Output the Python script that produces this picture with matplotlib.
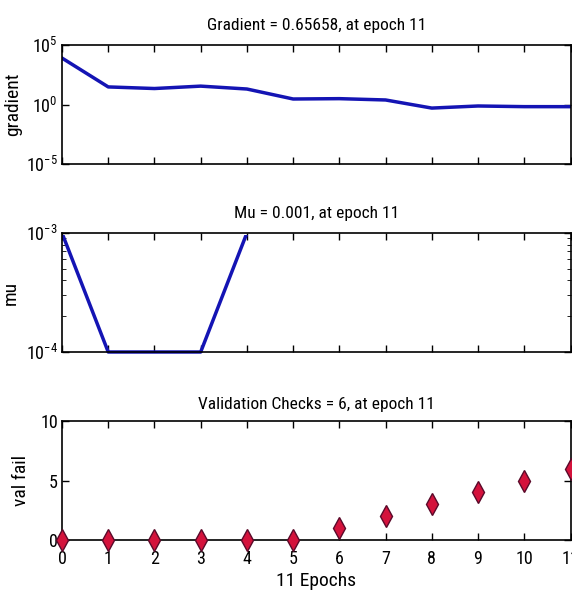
import matplotlib
matplotlib.use("Agg")
import matplotlib.pyplot as plt
import matplotlib.ticker as mticker
from matplotlib import font_manager
from matplotlib.patches import Rectangle

names = {f.name for f in font_manager.fontManager.ttflist}
fam = "Liberation Sans"
for c in ["Roboto Condensed", "Liberation Sans Narrow", "Archivo Narrow", "DejaVu Sans Condensed"]:
    if c in names:
        fam = c
        break
plt.rcParams['font.family'] = [fam, 'DejaVu Sans']
plt.rcParams['mathtext.fontset'] = 'custom'
plt.rcParams['mathtext.rm'] = fam
plt.rcParams['mathtext.it'] = fam
plt.rcParams['mathtext.bf'] = fam

epochs = list(range(12))
gradient = [8000, 30, 22, 35, 20, 2.9, 3.1, 2.4, 0.5, 0.75, 0.66, 0.65658]
mu = [1e-3, 1e-4, 1e-4, 1e-4, 1e-3, 1e-3, 1e-3, 1e-3, 1e-3, 1e-3, 1e-3, 1e-3]
val_fail = [0, 0, 0, 0, 0, 0, 1, 2, 3, 4, 5, 6]

titles = ["Gradient = 0.65658, at epoch 11",
          "Mu = 0.001, at epoch 11",
          "Validation Checks = 6, at epoch 11"]
ylabels = ["gradient", "mu", "val fail"]
xlabel = "11 Epochs"

W, H = 572, 592
fig = plt.figure(figsize=(W / 100, H / 100), dpi=100)
left = 62 / W
width = (570.5 - 62) / W
h = 119 / H
bottoms = [1 - 164 / H, 1 - 352 / H, 1 - 540 / H]
axes = [fig.add_axes([left, b, width, h]) for b in bottoms]

line_color = '#1414b4'
fs = 12.5
tfs = 13
lfs = 14

for ax in axes:
    ax.set_xlim(0, 11)
    ax.set_xticks(epochs)
    ax.tick_params(direction='in', top=True, right=True, length=5, width=1,
                   labelsize=tfs, pad=3)
    for s in ax.spines.values():
        s.set_linewidth(1.2)

ax = axes[0]
ax.semilogy(epochs, gradient, color=line_color, lw=2.5)
ax.set_ylim(1e-5, 1e5)
ax.set_yticks([1e-5, 1e0, 1e5])
ax.yaxis.set_minor_locator(mticker.NullLocator())
ax.set_yticklabels([r'$10^{-5}$', r'$10^{0}$', r'$10^{5}$'])
ax.set_xticklabels([])

ax = axes[1]
mu_line, = ax.semilogy(epochs, mu, color=line_color, lw=2.5)
clip = Rectangle((0, -0.1), 1, 1.1 - 2.0 / 119, transform=ax.transAxes,
                 facecolor='none', edgecolor='none')
mu_line.set_clip_path(clip)
ax.set_ylim(1e-4, 1e-3)
ax.set_yticks([1e-4, 1e-3])
ax.set_yticklabels([r'$10^{-4}$', r'$10^{-3}$'])
ax.yaxis.set_minor_locator(mticker.LogLocator(subs=range(2, 10)))
ax.yaxis.set_minor_formatter(mticker.NullFormatter())
ax.tick_params(which='minor', direction='in', right=True, length=3)
ax.set_xticklabels([])

ax = axes[2]
ax.plot(epochs, val_fail, linestyle='none', marker='d', markersize=11,
        markerfacecolor='#d4123c', markeredgecolor='#5a0a2a', markeredgewidth=1,
        clip_on=False, zorder=5)
ax.set_ylim(0, 10)
ax.set_yticks([0, 5, 10])
ax.set_xticklabels([str(e) for e in epochs])
ax.tick_params(axis='x', pad=7)
ax.set_xlabel(xlabel, fontsize=lfs, labelpad=3)

xs = [-0.079, -0.083, -0.063]
pads = [11, 11, 9]
for ax, t, yl, x, p in zip(axes, titles, ylabels, xs, pads):
    ax.set_title(t, fontsize=fs, pad=p)
    ax.set_ylabel(yl, fontsize=lfs)
    ax.yaxis.set_label_coords(x, 0.5)

fig.savefig("out.png", dpi=100)
